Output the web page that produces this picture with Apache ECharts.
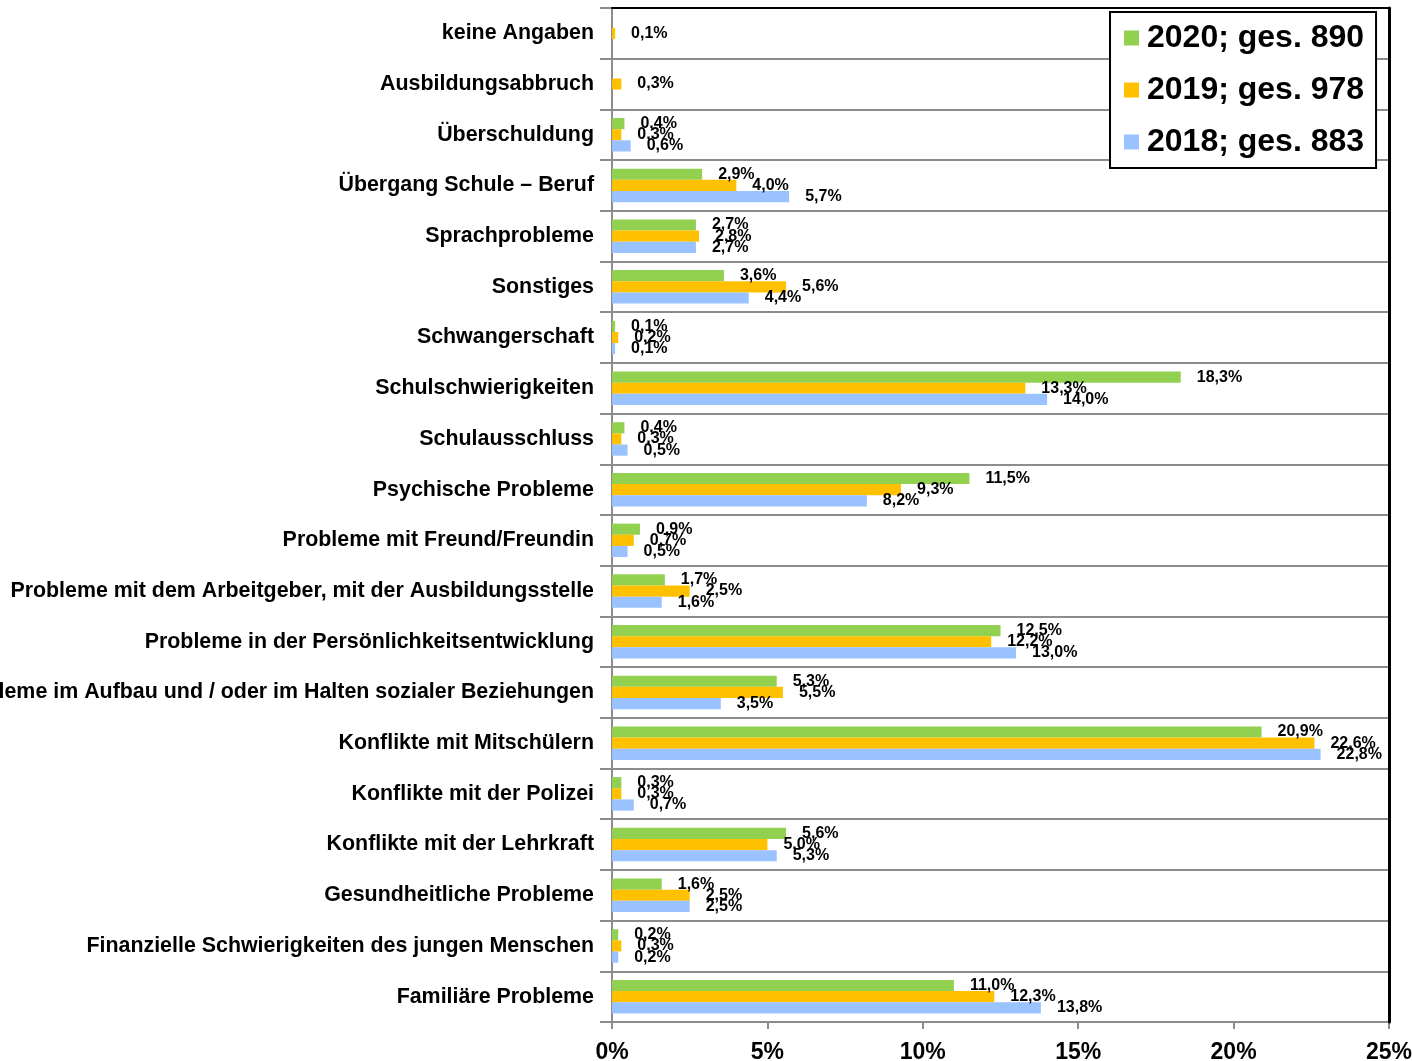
<!DOCTYPE html>
<html>
<head>
<meta charset="utf-8">
<script src="https://cdn.jsdelivr.net/npm/echarts@6/dist/echarts.min.js"></script>
<style>
  html, body { margin: 0; padding: 0; background: #fff; }
  #chart { width: 1412px; height: 1061px; }
</style>
</head>
<body>
<div id="chart"></div>
<script>
// categories from top to bottom, as in the picture
const categories = [
  'keine Angaben',
  'Ausbildungsabbruch',
  'Überschuldung',
  'Übergang Schule – Beruf',
  'Sprachprobleme',
  'Sonstiges',
  'Schwangerschaft',
  'Schulschwierigkeiten',
  'Schulausschluss',
  'Psychische Probleme',
  'Probleme mit Freund/Freundin',
  'Probleme mit dem Arbeitgeber, mit der Ausbildungsstelle',
  'Probleme in der Persönlichkeitsentwicklung',
  'Probleme im Aufbau und / oder im Halten sozialer Beziehungen',
  'Konflikte mit Mitschülern',
  'Konflikte mit der Polizei',
  'Konflikte mit der Lehrkraft',
  'Gesundheitliche Probleme',
  'Finanzielle Schwierigkeiten des jungen Menschen',
  'Familiäre Probleme'
]

const seriesNames = ['2020; ges. 890', '2019; ges. 978', '2018; ges. 883']

const values2020 = [null, null, 0.4, 2.9, 2.7, 3.6, 0.1, 18.3, 0.4, 11.5, 0.9, 1.7, 12.5, 5.3, 20.9, 0.3, 5.6, 1.6, 0.2, 11.0]
const values2019 = [0.1, 0.3, 0.3, 4.0, 2.8, 5.6, 0.2, 13.3, 0.3, 9.3, 0.7, 2.5, 12.2, 5.5, 22.6, 0.3, 5.0, 2.5, 0.3, 12.3]
const values2018 = [null, null, 0.6, 5.7, 2.7, 4.4, 0.1, 14.0, 0.5, 8.2, 0.5, 1.6, 13.0, 3.5, 22.8, 0.7, 5.3, 2.5, 0.2, 13.8]

const xTicks = { min: 0, max: 25, interval: 5 }

const colors = ['#92d050', '#ffc000', '#99c2ff']
const font = '"Liberation Sans", Arial, sans-serif'

const chart = echarts.init(document.getElementById('chart'))

function makeSeries(name, data, color) {
  return {
    name: name,
    type: 'bar',
    data: data,
    barGap: '0%',
    barCategoryGap: '34%',
    itemStyle: { color: color },
    label: {
      show: true,
      position: 'right',
      distance: 16,
      color: '#000',
      fontFamily: font,
      fontWeight: 'bold',
      fontSize: 16,
      padding: [3, 0, 0, 0],
      formatter: p => p.value.toFixed(1).replace('.', ',') + '%'
    },
    animation: false
  }
}

chart.setOption({
  textStyle: { fontFamily: font },
  grid: { left: 612, right: 23, top: 8, bottom: 39, outerBoundsMode: 'none', containLabel: false },
  legend: {
    orient: 'vertical',
    left: 1110,
    top: 12,
    padding: [10, 12, 10, 14],
    itemGap: 20,
    itemWidth: 15,
    itemHeight: 15,
    icon: 'rect',
    selectedMode: false,
    backgroundColor: '#fff',
    borderColor: '#000',
    borderWidth: 2,
    borderRadius: 0,
    textStyle: {
      fontFamily: font,
      fontWeight: 'bold',
      fontSize: 32,
      lineHeight: 31,
      color: '#000',
      padding: [0, 0, 0, 3]
    },
    data: seriesNames
  },
  xAxis: [{
    type: 'value',
    min: xTicks.min,
    max: xTicks.max,
    interval: xTicks.interval,
    axisLine: { show: true, onZero: false, lineStyle: { color: '#8c8c8c', width: 2 } },
    axisTick: { show: true, length: 7, lineStyle: { color: '#8c8c8c', width: 2 } },
    splitLine: { show: false },
    axisLabel: {
      margin: 19,
      color: '#000',
      fontFamily: font,
      fontWeight: 'bold',
      fontSize: 23,
      formatter: '{value}%'
    }
  }, {
    // top border
    type: 'value',
    position: 'top',
    min: 0,
    max: 25,
    axisLine: { show: true, onZero: false, lineStyle: { color: '#000', width: 2 } },
    axisTick: { show: false },
    axisLabel: { show: false },
    splitLine: { show: false },
    z: 5
  }],
  yAxis: [{
    type: 'category',
    data: categories,
    inverse: true,
    axisLine: { show: true, onZero: false, lineStyle: { color: '#8c8c8c', width: 2 } },
    axisTick: { show: true, length: 12, lineStyle: { color: '#8c8c8c', width: 2 } },
    splitLine: { show: true, lineStyle: { color: '#8c8c8c', width: 2 } },
    axisLabel: {
      margin: 18,
      color: '#000',
      fontFamily: font,
      fontWeight: 'bold',
      fontSize: 21.4,
      padding: [8, 0, 0, 0],
      interval: 0
    }
  }, {
    // right border
    type: 'value',
    position: 'right',
    axisLine: { show: true, onZero: false, lineStyle: { color: '#000', width: 3 } },
    axisTick: { show: false },
    axisLabel: { show: false },
    splitLine: { show: false },
    z: 5
  }],
  series: [
    makeSeries(seriesNames[0], values2020, colors[0]),
    makeSeries(seriesNames[1], values2019, colors[1]),
    makeSeries(seriesNames[2], values2018, colors[2])
  ]
})
</script>
</body>
</html>
